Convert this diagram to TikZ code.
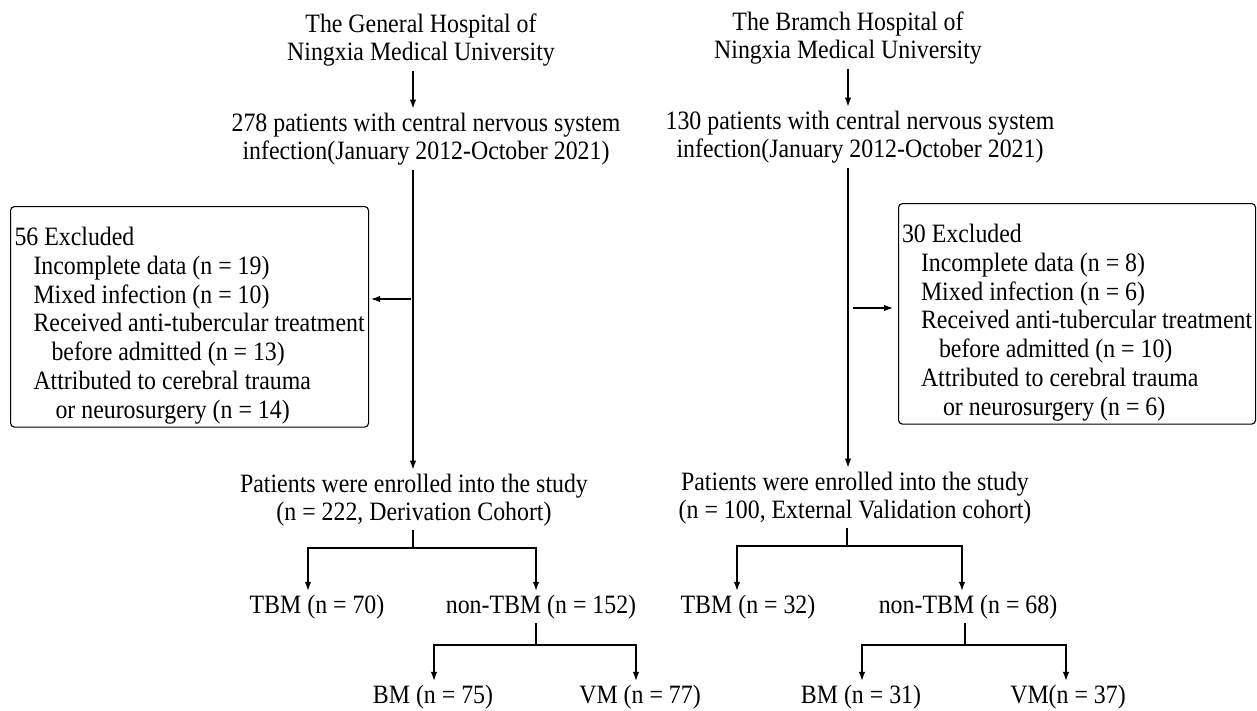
\documentclass[tikz,border=0pt]{standalone}
\usepackage{fontspec}
\setmainfont{Liberation Serif}[FakeStretch=0.9]
\usetikzlibrary{arrows.meta}
\begin{document}
\begin{tikzpicture}[x=1pt,y=-1pt,
  txt/.style={font=\fontsize{26.5}{28.5}\selectfont, align=center, inner sep=4pt},
  exbox/.style={draw, line width=1.1pt, rounded corners=4pt, inner xsep=0pt,
    font=\fontsize{26.5}{28.7}\selectfont, align=left, anchor=north west},
  ln/.style={line width=1.1pt},
  arr/.style={ln, -{Latex[length=9pt,width=6.5pt]}}]
\useasboundingbox (0,0) rectangle (1257,710);

% ---------------- left column ----------------
\node[txt] (L1) at (421,40) {The General Hospital of\\Ningxia Medical University};
\node[txt] (L2) at (426,139) {278 patients with central nervous system\\infection(January 2012-October 2021)};
\node[txt] (L3) at (414,500) {Patients were enrolled into the study\\(n = 222, Derivation Cohort)};
\node[exbox, minimum width=358pt, minimum height=220pt] (LB) at (10,206)
  {\rule{0pt}{36pt}56 Excluded\\
   \hspace*{19pt}Incomplete data (n = 19)\\
   \hspace*{19pt}Mixed infection (n = 10)\\
   \hspace*{19pt}Received anti-tubercular treatment\\
   \hspace*{37pt}before admitted (n = 13)\\
   \hspace*{19pt}Attributed to cerebral trauma\\
   \hspace*{41pt}or neurosurgery (n = 14)};
\node[txt] (T1) at (317,607) {TBM (n = 70)};
\node[txt] (N1) at (541,607) {non-TBM (n = 152)};
\node[txt] (B1) at (433,697) {BM (n = 75)};
\node[txt] (V1) at (640,697) {VM (n = 77)};

\coordinate (lx) at (413,0);
\draw[arr] (L1.south -| lx) -- (L2.north -| lx);
\draw[arr] (L2.south -| lx) -- (L3.north -| lx);
\coordinate (lh) at (411,299);
\draw[arr, shorten >=2pt] (lh) -- (lh -| LB.east);
\coordinate (lb) at (413,548);
\coordinate (lb1) at (308,548);
\coordinate (lb2) at (536,548);
\draw[ln] (L3.south -| lb) -- (lb);
\draw[arr] (lb) -- (lb1) -- (lb1 |- T1.north);
\draw[arr] (lb) -- (lb2) -- (lb2 |- N1.north);
\coordinate (lc) at (536,645);
\coordinate (lc1) at (434,645);
\coordinate (lc2) at (636,645);
\draw[ln] (N1.south -| lc) -- (lc);
\draw[arr] (lc) -- (lc1) -- (lc1 |- B1.north);
\draw[arr] (lc) -- (lc2) -- (lc2 |- V1.north);

% ---------------- right column ----------------
\node[txt] (R1) at (848,38) {The Bramch Hospital of\\Ningxia Medical University};
\node[txt] (R2) at (860,137) {130 patients with central nervous system\\infection(January 2012-October 2021)};
\node[txt] (R3) at (855,498) {Patients were enrolled into the study\\(n = 100, External Validation cohort)};
\node[exbox, minimum width=357pt, minimum height=217pt] (RB) at (898,203)
  {\rule{0pt}{36pt}30 Excluded\\
   \hspace*{19pt}Incomplete data (n = 8)\\
   \hspace*{19pt}Mixed infection (n = 6)\\
   \hspace*{19pt}Received anti-tubercular treatment\\
   \hspace*{37pt}before admitted (n = 10)\\
   \hspace*{19pt}Attributed to cerebral trauma\\
   \hspace*{41pt}or neurosurgery (n = 6)};
\node[txt] (T2) at (748,607) {TBM (n = 32)};
\node[txt] (N2) at (968,607) {non-TBM (n = 68)};
\node[txt] (B2) at (861,697) {BM (n = 31)};
\node[txt] (V2) at (1068,697) {VM(n = 37)};

\coordinate (rx) at (848,0);
\draw[arr] (R1.south -| rx) -- (R2.north -| rx);
\draw[arr] (R2.south -| rx) -- (R3.north -| rx);
\coordinate (rh) at (853,308);
\draw[arr, shorten >=5pt] (rh) -- (rh -| RB.west);
\coordinate (rb) at (847,546);
\coordinate (rb1) at (737,546);
\coordinate (rb2) at (962,546);
\draw[ln] (R3.south -| rb) -- (rb);
\draw[arr] (rb) -- (rb1) -- (rb1 |- T2.north);
\draw[arr] (rb) -- (rb2) -- (rb2 |- N2.north);
\coordinate (rc) at (965,645);
\coordinate (rc1) at (862,645);
\coordinate (rc2) at (1066,645);
\draw[ln] (N2.south -| rc) -- (rc);
\draw[arr] (rc) -- (rc1) -- (rc1 |- B2.north);
\draw[arr] (rc) -- (rc2) -- (rc2 |- V2.north);
\end{tikzpicture}
\end{document}
